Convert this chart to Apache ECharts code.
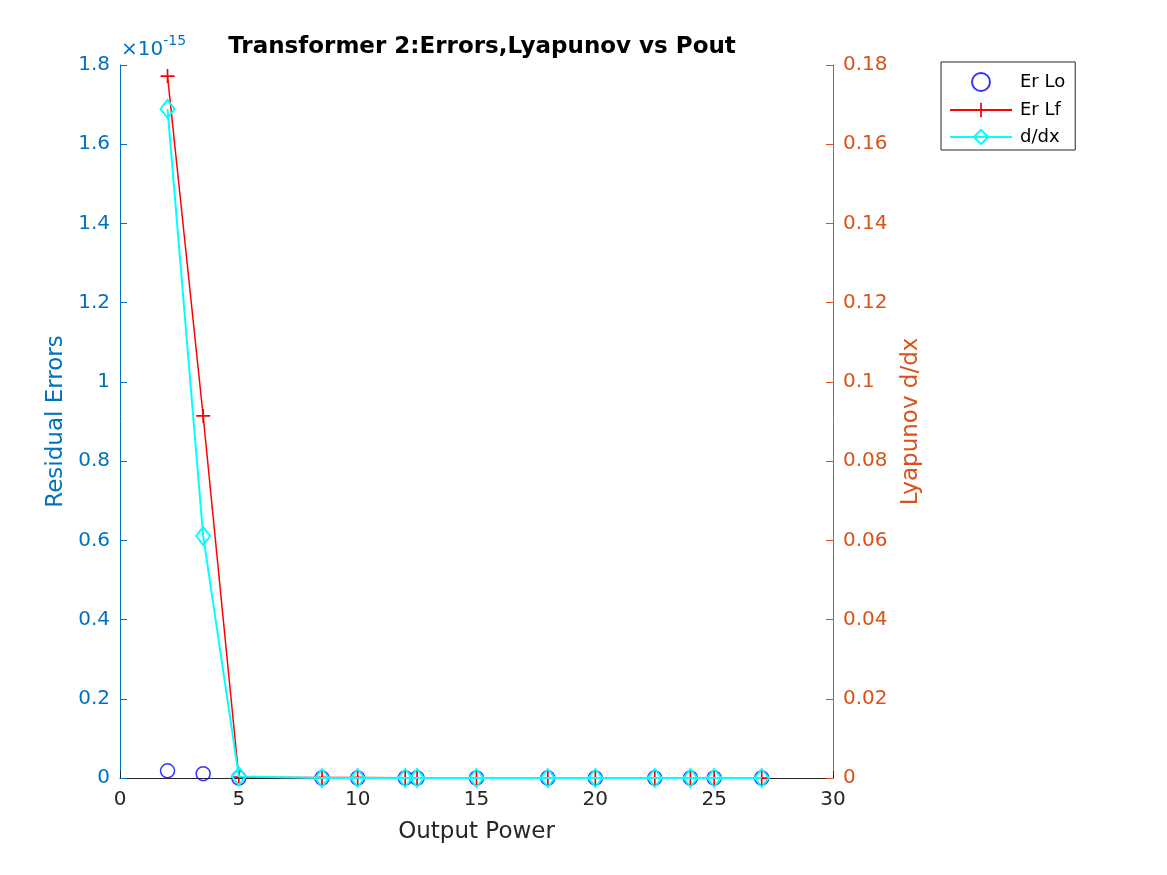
<!DOCTYPE html>
<html>
<head>
<meta charset="utf-8">
<script src="https://cdn.jsdelivr.net/npm/echarts@6/dist/echarts.min.js"></script>
<style>html,body{margin:0;padding:0;background:#fff;}#c{width:1167px;height:875px;}</style>
</head>
<body>
<div id="c"></div>
<script>
// Data (left axis values in units of 1e-15)
var xPower = [2, 3.5, 5, 8.5, 10, 12, 12.5, 15, 18, 20, 22.5, 24, 25, 27];
var erLo   = [0.018, 0.011, 0, 0, 0, 0, 0, 0, 0, 0, 0, 0, 0, 0];
var erLf   = [1.772, 0.914, 0.002, 0.001, 0.001, 0.0005, 0, 0, 0, 0, 0, 0, 0, 0];
var dDx    = [0.1689, 0.0611, 0.0004, 0, 0, 0, 0, 0, 0, 0, 0, 0, 0, 0];
var xTicks = [0, 5, 10, 15, 20, 25, 30];

function pairs(xs, ys){ return xs.map(function(x,i){ return [x, ys[i]]; }); }

var FONT = 'DejaVu Sans';
var BLUE = '#0072BD', ORANGE = '#D95319', DARK = '#262626';
var plus = 'path://M4.4,0H5.6V4.4H10V5.6H5.6V10H4.4V5.6H0V4.4H4.4Z';

var chart = echarts.init(document.getElementById('c'));
chart.setOption({
  animation: false,
  backgroundColor: '#fff',
  textStyle: { fontFamily: FONT },
  title: {
    text: 'Transformer 2:Errors,Lyapunov vs Pout',
    left: 477, top: 31, textAlign: 'center',
    textStyle: { fontFamily: FONT, fontWeight: 'bold', fontSize: 23, color: '#000' }
  },
  grid: { left: 120, right: 334, top: 65, bottom: 97 },
  legend: {
    orient: 'vertical',
    left: 941, top: 62,
    padding: [10, 10, 4, 8],
    itemGap: 9,
    itemWidth: 62, itemHeight: 18,
    borderColor: DARK, borderWidth: 1,
    textStyle: { fontFamily: FONT, fontSize: 18, color: '#000', padding: [0, 0, 0, 3] },
    data: ['Er Lo', 'Er Lf', 'd/dx']
  },
  xAxis: {
    type: 'value', min: 0, max: 30, interval: 5,
    name: 'Output Power', nameLocation: 'middle', nameGap: 43,
    nameTextStyle: { fontFamily: FONT, fontSize: 23, color: DARK },
    axisLine: { show: true, lineStyle: { color: DARK, width: 1 } },
    axisTick: { show: true, inside: true, length: 7, lineStyle: { color: DARK } },
    axisLabel: { fontFamily: FONT, fontSize: 20, color: DARK, margin: 12 },
    splitLine: { show: false }
  },
  yAxis: [{
    type: 'value', min: 0, max: 1.8, interval: 0.2, position: 'left',
    name: 'Residual Errors', nameLocation: 'middle', nameGap: 48, nameRotate: 90,
    nameTextStyle: { fontFamily: FONT, fontSize: 23, color: BLUE },
    axisLine: { show: true, lineStyle: { color: BLUE, width: 1 } },
    axisTick: { show: true, inside: true, length: 7, lineStyle: { color: BLUE } },
    axisLabel: { fontFamily: FONT, fontSize: 20, color: BLUE, margin: 10 },
    splitLine: { show: false }
  }, {
    type: 'value', min: 0, max: 0.18, interval: 0.02, position: 'right',
    name: 'Lyapunov d/dx', nameLocation: 'middle', nameGap: 67, nameRotate: 90,
    nameTextStyle: { fontFamily: FONT, fontSize: 23, color: ORANGE },
    axisLine: { show: true, lineStyle: { color: ORANGE, width: 1 } },
    axisTick: { show: true, inside: true, length: 7, lineStyle: { color: ORANGE } },
    axisLabel: { fontFamily: FONT, fontSize: 20, color: ORANGE, margin: 10 },
    splitLine: { show: false }
  }],
  graphic: [{
    type: 'text', left: 121, top: 34,
    style: {
      text: '{a|×10}{b|-15}',
      rich: {
        a: { fontFamily: FONT, fontSize: 20, fill: BLUE, verticalAlign: 'bottom' },
        b: { fontFamily: FONT, fontSize: 14, fill: BLUE, verticalAlign: 'top', padding: [0,0,12,0] }
      }
    }
  }],
  series: [{
    name: 'Er Lo', type: 'scatter', yAxisIndex: 0,
    data: pairs(xPower, erLo),
    symbol: 'circle', symbolSize: 14,
    itemStyle: { color: 'rgba(255,255,255,0)', borderColor: '#0000FF', borderWidth: 1.5 },
    z: 3
  }, {
    name: 'Er Lf', type: 'line', yAxisIndex: 0,
    data: pairs(xPower, erLf),
    symbol: plus, symbolSize: 14, showAllSymbol: true,
    lineStyle: { color: '#FF0000', width: 1.5 },
    itemStyle: { color: '#FF0000' },
    z: 4
  }, {
    name: 'd/dx', type: 'line', yAxisIndex: 1,
    data: pairs(xPower, dDx),
    symbol: 'diamond', symbolSize: [14, 18], showAllSymbol: true,
    lineStyle: { color: '#00FFFF', width: 2 },
    itemStyle: { color: 'rgba(255,255,255,0)', borderColor: '#00FFFF', borderWidth: 2 },
    z: 5
  }]
});
</script>
</body>
</html>
